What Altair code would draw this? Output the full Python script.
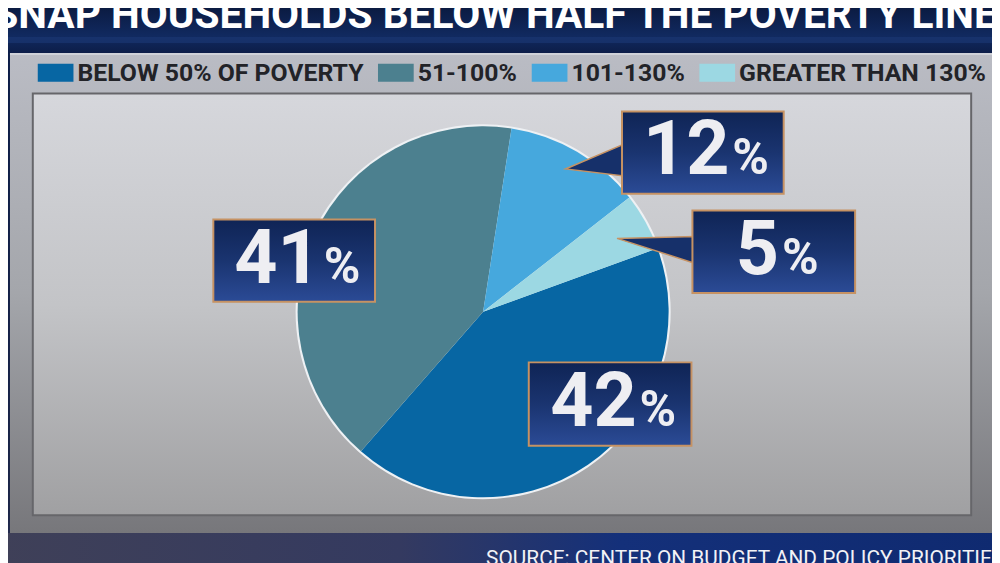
import math
import altair as alt
import pandas as pd

# ---------------- data ----------------
categories = ["BELOW 50% OF POVERTY", "51-100%", "101-130%", "GREATER THAN 130%"]
shares = [42, 41, 12, 5]
slice_colors = ["#0766a3", "#4c808f", "#46a8dd", "#9cd8e3"]

title_text = ["SNAP HOUSEHOLDS BELOW HALF THE POVERTY LINE"]
source_text = ["SOURCE: CENTER ON BUDGET AND POLICY PRIORITIES"]

# ---------------- layout (screen px) ----------------
W, H = 992, 555
OFF = 8


def sx(v):
    return v - OFF


def sy(v):
    return v - OFF


PIE_CX, PIE_CY, PIE_R = 487, 312, 187
PIE_START = math.radians(70)

# callout boxes, one per category (same order as categories)
box_x1 = [533, 215, 627, 698]
box_y1 = [363, 219, 110, 210]
box_x2 = [697, 378, 790, 862]
box_y2 = [447, 302, 193, 293]

# callout pointers (for the two small slices)
ptr_grp = ["a", "a", "b", "b"]
ptr_x = [570, 629, 622, 700]
ptr_y = [168, 143, 238, 236]
ptr_y2 = [168, 175, 238, 263]

FONT = "Roboto, sans-serif"
DIG_FS, PCT_FS = 76, 50
DIG_W, PCT_W = 0.5625 * DIG_FS, 0.74 * PCT_FS

XS = alt.Scale(domain=[0, W], nice=False, zero=False)
YS = alt.Scale(domain=[0, H], nice=False, zero=False, reverse=True)

one = pd.DataFrame({"k": [0]})


def grad_v(c0, c1, mid=None):
    stops = [alt.GradientStop(color=c0, offset=0)]
    if mid:
        stops.append(alt.GradientStop(color=mid, offset=0.5))
    stops.append(alt.GradientStop(color=c1, offset=1))
    return alt.Gradient(gradient="linear", stops=stops, x1=0, x2=0, y1=0, y2=1)


def rect(x1, y1, x2, y2, **kw):
    return alt.Chart(one).mark_rect(**kw).encode(
        x=alt.value(sx(x1)), x2=alt.value(sx(x2)),
        y=alt.value(sy(y1)), y2=alt.value(sy(y2)))


# background
bg = rect(0, 0, 1008, 571, fill=alt.Gradient(
    gradient="linear",
    stops=[alt.GradientStop(color="#0a183c", offset=0),
           alt.GradientStop(color="#112a60", offset=0.06),
           alt.GradientStop(color="#0c1d48", offset=0.09),
           alt.GradientStop(color="#1b2548", offset=0.9),
           alt.GradientStop(color="#2c3258", offset=1)],
    x1=0, x2=0, y1=0, y2=1))
streak = rect(0, 35, 1008, 41, fill="#1d3a78", opacity=0.55)
bottom_band = rect(0, 535, 1008, 571, fill=alt.Gradient(
    gradient="linear",
    stops=[alt.GradientStop(color="#3f4058", offset=0),
           alt.GradientStop(color="#343a60", offset=0.4),
           alt.GradientStop(color="#14307a", offset=0.62),
           alt.GradientStop(color="#0f2a70", offset=1)],
    x1=0, x2=1, y1=0, y2=0))

outer = rect(10, 51, 1008, 535, fill=grad_v("#babcc4", "#77777b", "#a4a6ab"))
outer_edge = rect(10, 51, 1008, 53, fill="#cfd1d8")
inner = rect(33, 92, 979, 517, fill=grad_v("#d6d7dc", "#a0a0a2", "#c3c4c7"),
             stroke="#66666a", strokeWidth=2)

# pie
pie_df = pd.DataFrame({"cat": categories, "share": shares,
                       "idx": list(range(len(categories)))})

ring = alt.Chart(one).mark_arc(theta=0, theta2=2 * math.pi, radius=PIE_R + 2,
                               fill="#eef1f4").encode(
    x=alt.value(sx(PIE_CX)), y=alt.value(sy(PIE_CY)))

pie = alt.Chart(pie_df).mark_arc(radius=PIE_R).encode(
    theta=alt.Theta("share:Q", stack=True,
                    scale=alt.Scale(domain=[0, sum(shares)],
                                    range=[PIE_START, PIE_START + 2 * math.pi])),
    color=alt.Color(
        "cat:N",
        scale=alt.Scale(domain=categories, range=slice_colors),
        legend=alt.Legend(
            orient="none", legendX=sx(38), legendY=sy(53), direction="horizontal",
            title=None, symbolType="M-1,-0.5H1V0.5H-1Z", symbolSize=1296,
            symbolStrokeWidth=0, symbolOpacity=1, labelFont=FONT, labelFontSize=25,
            labelFontWeight="bold", labelColor="#222328", labelLimit=500,
            labelOffset=4, columnPadding=14, padding=0)),
    order=alt.Order("idx:Q"),
    x=alt.value(sx(PIE_CX)), y=alt.value(sy(PIE_CY)),
)

# callouts
ptr_df = pd.DataFrame({"g": ptr_grp, "px": [sx(v) for v in ptr_x],
                       "py": [sy(v) for v in ptr_y], "py2": [sy(v) for v in ptr_y2]})
pointers = alt.Chart(ptr_df).mark_area(
    fill="#16306a", stroke="#c69263", strokeWidth=1.5, interpolate="linear").encode(
    x=alt.X("px:Q", scale=XS, axis=None),
    y=alt.Y("py:Q", scale=YS, axis=None),
    y2="py2:Q",
    detail="g:N")

box_df = pd.DataFrame({
    "cat": categories,
    "val": [str(v) for v in shares],
    "x1": [sx(v) for v in box_x1], "x2": [sx(v) for v in box_x2],
    "y1": [sy(v) for v in box_y1], "y2": [sy(v) for v in box_y2],
})
box_df["n"] = box_df["val"].str.len()
box_df["cx"] = (box_df["x1"] + box_df["x2"]) / 2 + 4
box_df["tw"] = DIG_W * box_df["n"] + 3 + PCT_W
box_df["split"] = box_df["cx"] - box_df["tw"] / 2 + DIG_W * box_df["n"]
box_df["pct_x"] = box_df["split"] + 3
box_df["base"] = (box_df["y1"] + box_df["y2"]) / 2 + 22
box_df["pct"] = "%"

boxes = alt.Chart(box_df).mark_rect(
    fill=grad_v("#0f2455", "#2b4b96", "#1a3470"), stroke="#c69263", strokeWidth=2).encode(
    x=alt.X("x1:Q", scale=XS, axis=None), x2="x2:Q",
    y=alt.Y("y1:Q", scale=YS, axis=None), y2="y2:Q")

digits = alt.Chart(box_df).mark_text(
    font=FONT, fontSize=DIG_FS, fontWeight="bold", color="#eeeef2",
    align="right", baseline="alphabetic").encode(
    x=alt.X("split:Q", scale=XS, axis=None),
    y=alt.Y("base:Q", scale=YS, axis=None),
    text="val:N")

pcts = alt.Chart(box_df).mark_text(
    font=FONT, fontSize=PCT_FS, fontWeight="bold", color="#eeeef2",
    align="left", baseline="alphabetic").encode(
    x=alt.X("pct_x:Q", scale=XS, axis=None),
    y=alt.Y("base:Q", scale=YS, axis=None),
    text="pct:N")

# title and source
title = alt.Chart(pd.DataFrame({"t": title_text})).mark_text(
    font=FONT, fontSize=41, fontWeight="bold", color="#ffffff",
    align="center", baseline="alphabetic").encode(
    x=alt.value(sx(499)), y=alt.value(sy(26)), text="t:N")

source = alt.Chart(pd.DataFrame({"t": source_text})).mark_text(
    font=FONT, fontSize=21, color="#f2f2f6",
    align="left", baseline="alphabetic").encode(
    x=alt.value(sx(490)), y=alt.value(sy(567)), text="t:N")

chart = alt.layer(
    bg, streak, bottom_band, outer, outer_edge, inner, ring, pie, pointers, boxes,
    digits, pcts, title, source
).properties(
    width=W, height=H, padding=0,
    autosize=alt.AutoSizeParams(type="none"),
    background="#0b1a40",
).configure_view(stroke=None)

chart.save("out.html", embed_options={"renderer": "svg", "actions": False})
